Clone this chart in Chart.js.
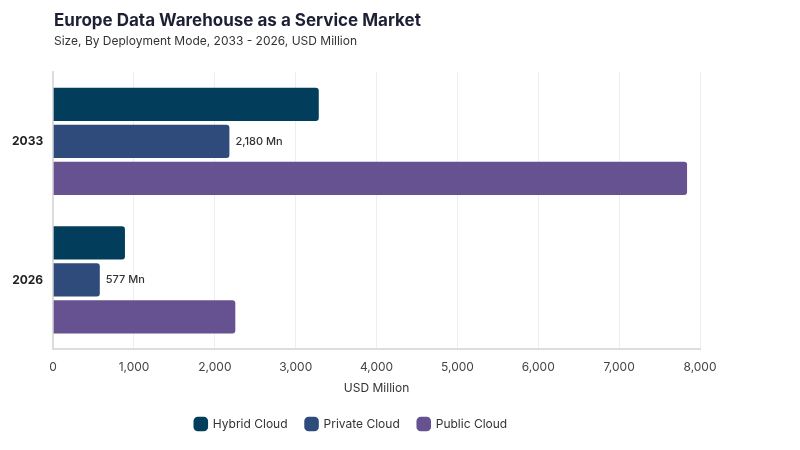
<!DOCTYPE html>
<html>
<head>
<meta charset="utf-8">
<script src="https://cdn.jsdelivr.net/npm/chart.js@4.4.1/dist/chart.umd.min.js"></script>
<style>
  body { margin: 0; background: #fff; font-family: Inter, "Open Sans", sans-serif; }
  #wrap { position: relative; width: 800px; height: 450px; }
  #title { position: absolute; left: 54px; top: 10px; font-size: 17px; font-weight: 700; color: #1d1f33; }
  #subtitle { position: absolute; left: 54px; top: 33px; font-size: 12px; color: #333; }
  canvas { position: absolute; left: 0; top: 0; }
</style>
</head>
<body>
<div id="wrap">
  <canvas id="chart" width="800" height="450"></canvas>
  <div id="title">Europe Data Warehouse as a Service Market</div>
  <div id="subtitle">Size, By Deployment Mode, 2033 - 2026, USD Million</div>
</div>
<script>
// chart values
var years = ['2033', '2026'];
var hybridCloud = [3285, 888];
var privateCloud = [2180, 577];
var publicCloud = [7840, 2253];
var seriesNames = ['Hybrid Cloud', 'Private Cloud', 'Public Cloud'];
var seriesColors = ['#023e5c', '#2f4b7c', '#665191'];

// writes "x Mn" after the Private Cloud bars
var labelPlugin = {
    id: 'mnLabels',
    afterDatasetsDraw: function (chart) {
        var ctx = chart.ctx;
        var meta = chart.getDatasetMeta(1);
        ctx.save();
        ctx.font = '500 11px Inter, sans-serif';
        ctx.fillStyle = '#333';
        ctx.textBaseline = 'middle';
        meta.data.forEach(function (bar, i) {
            var v = chart.data.datasets[1].data[i];
            ctx.fillText(v.toLocaleString('en-US') + ' Mn', bar.x + 6, bar.y);
        });
        ctx.restore();
    }
};

var data = {
    labels: years,
    datasets: [
        { label: seriesNames[0], data: hybridCloud, backgroundColor: seriesColors[0] },
        { label: seriesNames[1], data: privateCloud, backgroundColor: seriesColors[1] },
        { label: seriesNames[2], data: publicCloud, backgroundColor: seriesColors[2] }
    ]
};
data.datasets.forEach(function (d) { d.borderRadius = 3; d.borderSkipped = 'start'; });

var options = {
    indexAxis: 'y',
    responsive: false,
    animation: false,
    layout: { padding: { top: 72, left: 2, right: 100, bottom: 10 } },
    scales: {
        x: {
            min: 0,
            max: 8000,
            ticks: {
                stepSize: 1000,
                padding: 11,
                color: '#444',
                font: { family: 'Inter', size: 12 },
                callback: function (v) { return v.toLocaleString('en-US'); }
            },
            grid: { color: '#eeeeee', drawTicks: false },
            border: { color: '#dddddd', width: 2 },
            title: {
                display: true,
                text: 'USD Million',
                color: '#333',
                font: { family: 'Inter', size: 12 },
                padding: { top: -4, bottom: 4 }
            }
        },
        y: {
            ticks: { color: '#222', padding: 10, font: { family: 'Inter', size: 12, weight: 'bold' } },
            grid: { display: false, drawTicks: false },
            border: { color: '#dddddd', width: 2 }
        }
    },
    plugins: {
        legend: {
            position: 'bottom',
            labels: {
                usePointStyle: true,
                pointStyle: 'rectRounded',
                boxWidth: 14,
                boxHeight: 14,
                padding: 18,
                color: '#333',
                font: { family: 'Inter', size: 12 }
            }
        },
        tooltip: { enabled: false }
    }
};

var ctx = document.getElementById('chart').getContext('2d');
var chart = new Chart(ctx, { type: 'bar', data: data, options: options, plugins: [labelPlugin] });
</script>
</body>
</html>
